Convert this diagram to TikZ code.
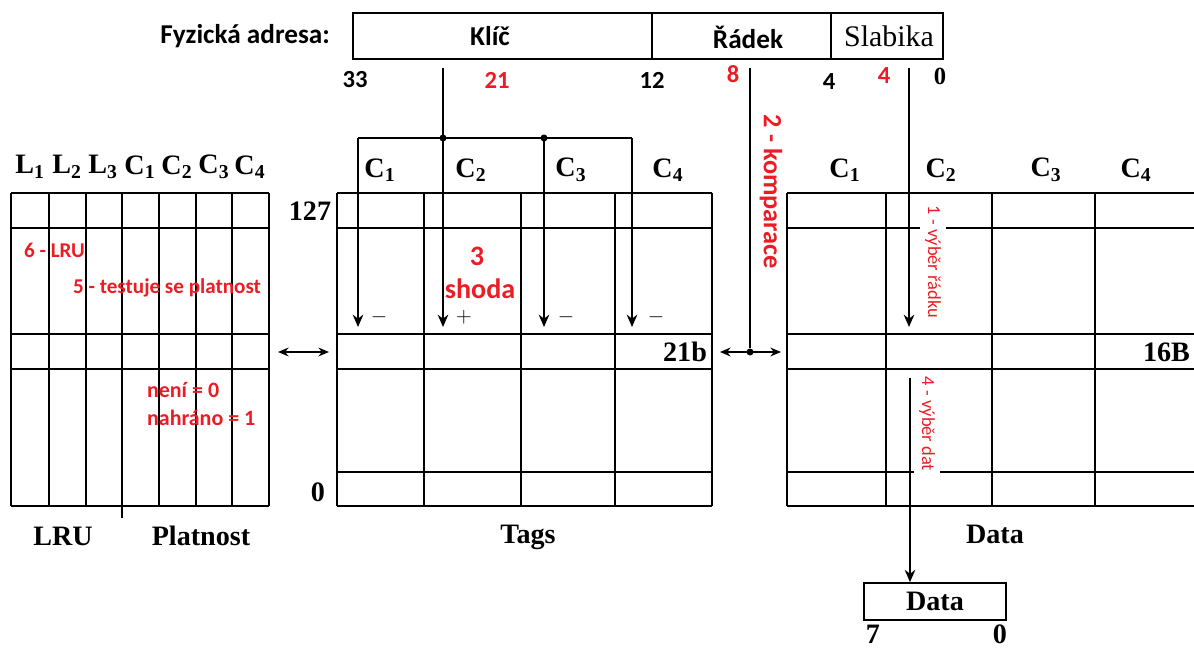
\documentclass[tikz,border=0pt]{standalone}
\usepackage{fontspec}
\setmainfont{Liberation Serif}
\setsansfont{Carlito}
\usepackage{xcolor}
\usetikzlibrary{arrows.meta,positioning}

\definecolor{notered}{RGB}{237,28,36}

\begin{document}
\begin{tikzpicture}[
    x=0.02cm, y=-0.02cm,
    grid/.style={draw, line width=1pt},
    field/.style={rectangle, draw, line width=1pt, minimum height=46*0.02cm, inner sep=0pt},
    hdr/.style={inner sep=1pt, font=\fontsize{16}{18}\selectfont\bfseries},
    addr/.style={inner sep=1pt, font=\sffamily\fontsize{15.5}{17}\selectfont\bfseries},
    bitno/.style={inner sep=1pt, font=\sffamily\fontsize{14}{16}\selectfont\bfseries},
    note/.style={text=notered, inner sep=1pt, font=\sffamily\fontsize{12}{14}\selectfont\bfseries},
    vnote/.style={note, rotate=-90, fill=white, inner sep=3pt, font=\sffamily\fontsize{10.5}{12}\selectfont},
    sign/.style={inner sep=0pt, font=\fontsize{13}{14}\selectfont},
    wire/.style={line width=1pt},
    line/.style={wire, -{Stealth[length=7pt,width=6pt]}},
    both/.style={wire, {Stealth[length=6pt,width=5pt]}-{Stealth[length=6pt,width=5pt]}},
    junction/.style={circle, fill, inner sep=1.4pt}
]
\useasboundingbox (0,0) rectangle (1194,648);

    % --- address ---
    \node [addr, anchor=east] (addrlabel) at (332,36) {Fyzická adresa:};
    \node [field, minimum width=299*0.02cm] (key) at (502.5,36) {};
    \node [field, minimum width=179*0.02cm] (row) at (741.5,36) {};
    \node [field, minimum width=112*0.02cm] (byte) at (887,36) {};
    \node [addr] (keytext) at (490,36) {Klíč};
    \node [addr] (rowtext) at (748,37) {Řádek};
    \node [hdr, font=\fontsize{17}{19}\selectfont] (bytetext) at (889,36) {Slabika};

    \node [bitno] (b33) at (355,80) {33};
    \node [bitno, text=notered] (b21) at (497,80) {21};
    \node [bitno] (b12) at (652,80) {12};
    \node [bitno, text=notered] (b8) at (733,74) {8};
    \node [bitno] (b4) at (829,82) {4};
    \node [bitno, text=notered] (b4r) at (884,76) {4};
    \node [hdr, font=\fontsize{14}{16}\selectfont\bfseries] (b0) at (940,76) {0};

    % --- LRU / Platnost table ---
    \foreach \x in {11,49,86,122,159,196,232,269}
        \draw [grid] (\x,193) -- (\x,506);
    \foreach \y in {193,228,334,369,506}
        \draw [grid] (11,\y) -- (269,\y);
    \draw [grid] (122,506) -- (122,518);
    \node [hdr] (lh1) at (30,167) {L\textsubscript{1}};
    \node [hdr] (lh2) at (67,167) {L\textsubscript{2}};
    \node [hdr] (lh3) at (103,167) {L\textsubscript{3}};
    \node [hdr] (lh4) at (140,167) {C\textsubscript{1}};
    \node [hdr] (lh5) at (177,167) {C\textsubscript{2}};
    \node [hdr] (lh6) at (214,167) {C\textsubscript{3}};
    \node [hdr] (lh7) at (250,167) {C\textsubscript{4}};
    \node [hdr] (lrutext) at (63,536) {LRU};
    \node [hdr] (valtext) at (201,536) {Platnost};

    % --- Tags table ---
    \foreach \x in {337,424,521,615,712}
        \draw [grid] (\x,193) -- (\x,506);
    \foreach \y in {193,228,334,369,472,506}
        \draw [grid] (337,\y) -- (712,\y);
    \node [hdr] (th1) at (380,170) {C\textsubscript{1}};
    \node [hdr] (th2) at (471,170) {C\textsubscript{2}};
    \node [hdr] (th3) at (571,170) {C\textsubscript{3}};
    \node [hdr] (th4) at (668,170) {C\textsubscript{4}};
    \node [hdr] (top) at (310,211) {127};
    \node [hdr] (bottom) at (318,492) {0};
    \node [hdr, anchor=east] (tagw) at (709,352) {21b};
    \node [hdr] (tagtext) at (528,537) {Tags};

    % --- Data table ---
    \foreach \x in {787,886,992,1095}
        \draw [grid] (\x,193) -- (\x,506);
    \foreach \y in {193,228,334,369,472,506}
        \draw [grid] (787,\y) -- (1194,\y);
    \node [hdr] (dh1) at (845,170) {C\textsubscript{1}};
    \node [hdr] (dh2) at (941,170) {C\textsubscript{2}};
    \node [hdr] (dh3) at (1046,170) {C\textsubscript{3}};
    \node [hdr] (dh4) at (1136,170) {C\textsubscript{4}};
    \node [hdr, anchor=east] (dataw) at (1192,352) {16B};
    \node [hdr] (datatext) at (995,534) {Data};

    \node [rectangle, draw, line width=1pt, minimum width=142*0.02cm, minimum height=37*0.02cm,
           font=\fontsize{16}{18}\selectfont\bfseries] (outbox) at (935,601.5) {Data};
    \node [hdr] (o7) at (873,634) {7};
    \node [hdr] (o0) at (1000,634) {0};

    % Paths
    \coordinate (keyout) at (443,68);
    \coordinate (keyjoin) at (443,138);
    \coordinate (t1) at (358,138);
    \coordinate (t3) at (544,138);
    \coordinate (t4) at (632,138);
    \draw [wire] (keyout) -- (keyjoin);
    \draw [wire] (t1) -- (t4);
    \foreach \c in {t1,keyjoin,t3,t4}
        \draw [line] (\c) -- ++(0,189);
    \node [junction] (j1) at (keyjoin) {};
    \node [junction] (j2) at (t3) {};
    \node [sign] (m1) at (379,317) {$-$};
    \node [sign] (m2) at (464,317) {$+$};
    \node [sign] (m3) at (566,317) {$-$};
    \node [sign] (m4) at (656,317) {$-$};

    \coordinate (lruside) at (278,352);
    \coordinate (tagside) at (329,352);
    \draw [both] (lruside) -- (tagside);

    \coordinate (rowout) at (750,68);
    \node [junction] (cmp) at (750,352) {};
    \coordinate (cmpl) at (720,352);
    \coordinate (cmpr) at (781,352);
    \draw [wire] (rowout) -- (cmp);
    \draw [both] (cmpl) -- (cmpr);

    \coordinate (byteout) at (909,68);
    \coordinate (rowsel) at (909,327);
    \draw [line] (byteout) -- (rowsel);
    \coordinate (datasel) at (910,378);
    \draw [line] (datasel) -- (datasel |- outbox.north);

    % Notes
    \node [vnote] (n1) at (933,262) {1 - výběr řádku};
    \node [vnote] (n4) at (927,424) {4 - výběr dat};
    \node [note, rotate=-90, font=\sffamily\fontsize{15}{17}\selectfont\bfseries] (n2) at (771,192) {2 - komparace};
    \node [note, inner sep=0pt, font=\sffamily\fontsize{16}{18}\selectfont\bfseries] (n3) at (477,256) {3};
    \node [note, inner sep=0pt, font=\sffamily\fontsize{16}{18}\selectfont\bfseries] (n3b) at (480,289) {shoda};
    \node [note, anchor=west] (n6) at (22,250) {6 - LRU};
    \node [note, anchor=west] (n5) at (71,288) {5 - testuje se platnost};
    \node [note, anchor=west, font=\sffamily\fontsize{12.5}{14}\selectfont\bfseries] (v0) at (145,390) {není = 0};
    \node [note, anchor=west, font=\sffamily\fontsize{12.5}{14}\selectfont\bfseries] (v1) at (145,418) {nahráno = 1};

\end{tikzpicture}
\end{document}
